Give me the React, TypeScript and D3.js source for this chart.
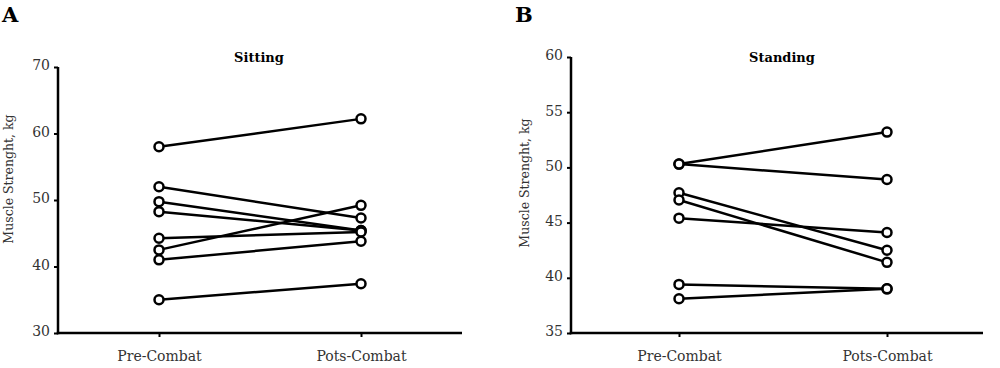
import * as d3 from "d3";
import { useRef, useEffect } from "react";

const phases = ["Pre-Combat", "Pots-Combat"];

// sitting (panel A), one entry per subject
const sittingPre = [58.0, 52.0, 49.75, 48.25, 44.25, 42.5, 41.0, 35.0];
const sittingPost = [62.2, 47.3, 45.4, 45.4, 45.2, 49.2, 43.8, 37.4];
const sittingTicks = [30, 40, 50, 60, 70];

// standing (panel B)
const standingPre = [50.3, 50.3, 47.7, 47.05, 45.4, 39.4, 38.1];
const standingPost = [53.2, 48.9, 42.5, 41.4, 44.1, 39.0, 39.0];
const standingTicks = [35, 40, 45, 50, 55, 60];

const yLabel = "Muscle Strenght, kg";
const FONT = "'DejaVu Serif', serif";

function Panel({ letter, title, pre, post, ticks, left, right, top, bottom, padL, padR, letterX, titleX, ylabX, ylabY }) {
  const gx = useRef(null);
  const gy = useRef(null);
  const x = d3.scalePoint().domain(phases).range([left + padL, right - padR]);
  const y = d3.scaleLinear().domain(d3.extent(ticks)).range([bottom, top]);

  useEffect(() => {
    const ax = d3.select(gx.current);
    ax.selectAll("*").remove();
    ax.call(d3.axisBottom(x).tickSizeOuter(0).tickSize(4).tickPadding(14));
    ax.select(".domain").remove();
    ax.selectAll(".tick line").attr("stroke", "#000").attr("stroke-width", 2);
    ax.selectAll(".tick text").attr("font-family", FONT).attr("font-size", 14).attr("fill", "#333");

    const ay = d3.select(gy.current);
    ay.selectAll("*").remove();
    ay.call(d3.axisLeft(y).tickValues(ticks).tickSizeOuter(0).tickSize(4).tickPadding(4));
    ay.select(".domain").remove();
    ay.selectAll(".tick line").attr("stroke", "#000").attr("stroke-width", 2);
    ay.selectAll(".tick text").attr("font-family", FONT).attr("font-size", 14).attr("fill", "#333").attr("dy", "0.2em");
  });

  const pairs = pre.map((d, i) => [d, post[i]]);
  return (
    <g>
      <text x={letterX} y={22} fontFamily={FONT} fontWeight="bold" fontSize={21}>{letter}</text>
      <text x={titleX} y={62} textAnchor="middle" fontFamily={FONT} fontWeight="bold" fontSize={13}>{title}</text>
      <text transform={`translate(${ylabX},${ylabY}) rotate(-90)`} textAnchor="middle" fontFamily={FONT} fontSize={12.5} fill="#333">{yLabel}</text>
      <g ref={gx} transform={`translate(0,${bottom})`} />
      <g ref={gy} transform={`translate(${left},0)`} />
      <line x1={left} x2={left} y1={top} y2={bottom + 1.25} stroke="#000" strokeWidth={2.5} />
      <line x1={left - 1.25} x2={right} y1={bottom} y2={bottom} stroke="#000" strokeWidth={2.5} />
      {pairs.map((p, i) => (
        <line key={"l" + i} x1={x(phases[0])} y1={y(p[0])} x2={x(phases[1])} y2={y(p[1])} stroke="#000" strokeWidth={2.5} />
      ))}
      {pairs.map((p, i) => (
        <g key={"c" + i}>
          <circle cx={x(phases[0])} cy={y(p[0])} r={4.5} fill="#fff" stroke="#000" strokeWidth={2.5} />
          <circle cx={x(phases[1])} cy={y(p[1])} r={4.5} fill="#fff" stroke="#000" strokeWidth={2.5} />
        </g>
      ))}
    </g>
  );
}

export default function App() {
  return (
    <svg width={1000} height={368} style={{ position: "absolute", left: 0, top: 0, background: "#fff" }}>
      <Panel letter="A" title="Sitting" pre={sittingPre} post={sittingPost} ticks={sittingTicks}
        left={58} right={462} top={67} bottom={333} padL={101} padR={101}
        letterX={2} titleX={259} ylabX={13} ylabY={179} />
      <Panel letter="B" title="Standing" pre={standingPre} post={standingPost} ticks={standingTicks}
        left={571} right={983} top={57} bottom={333} padL={108} padR={96}
        letterX={515} titleX={782} ylabX={529} ylabY={183} />
    </svg>
  );
}
